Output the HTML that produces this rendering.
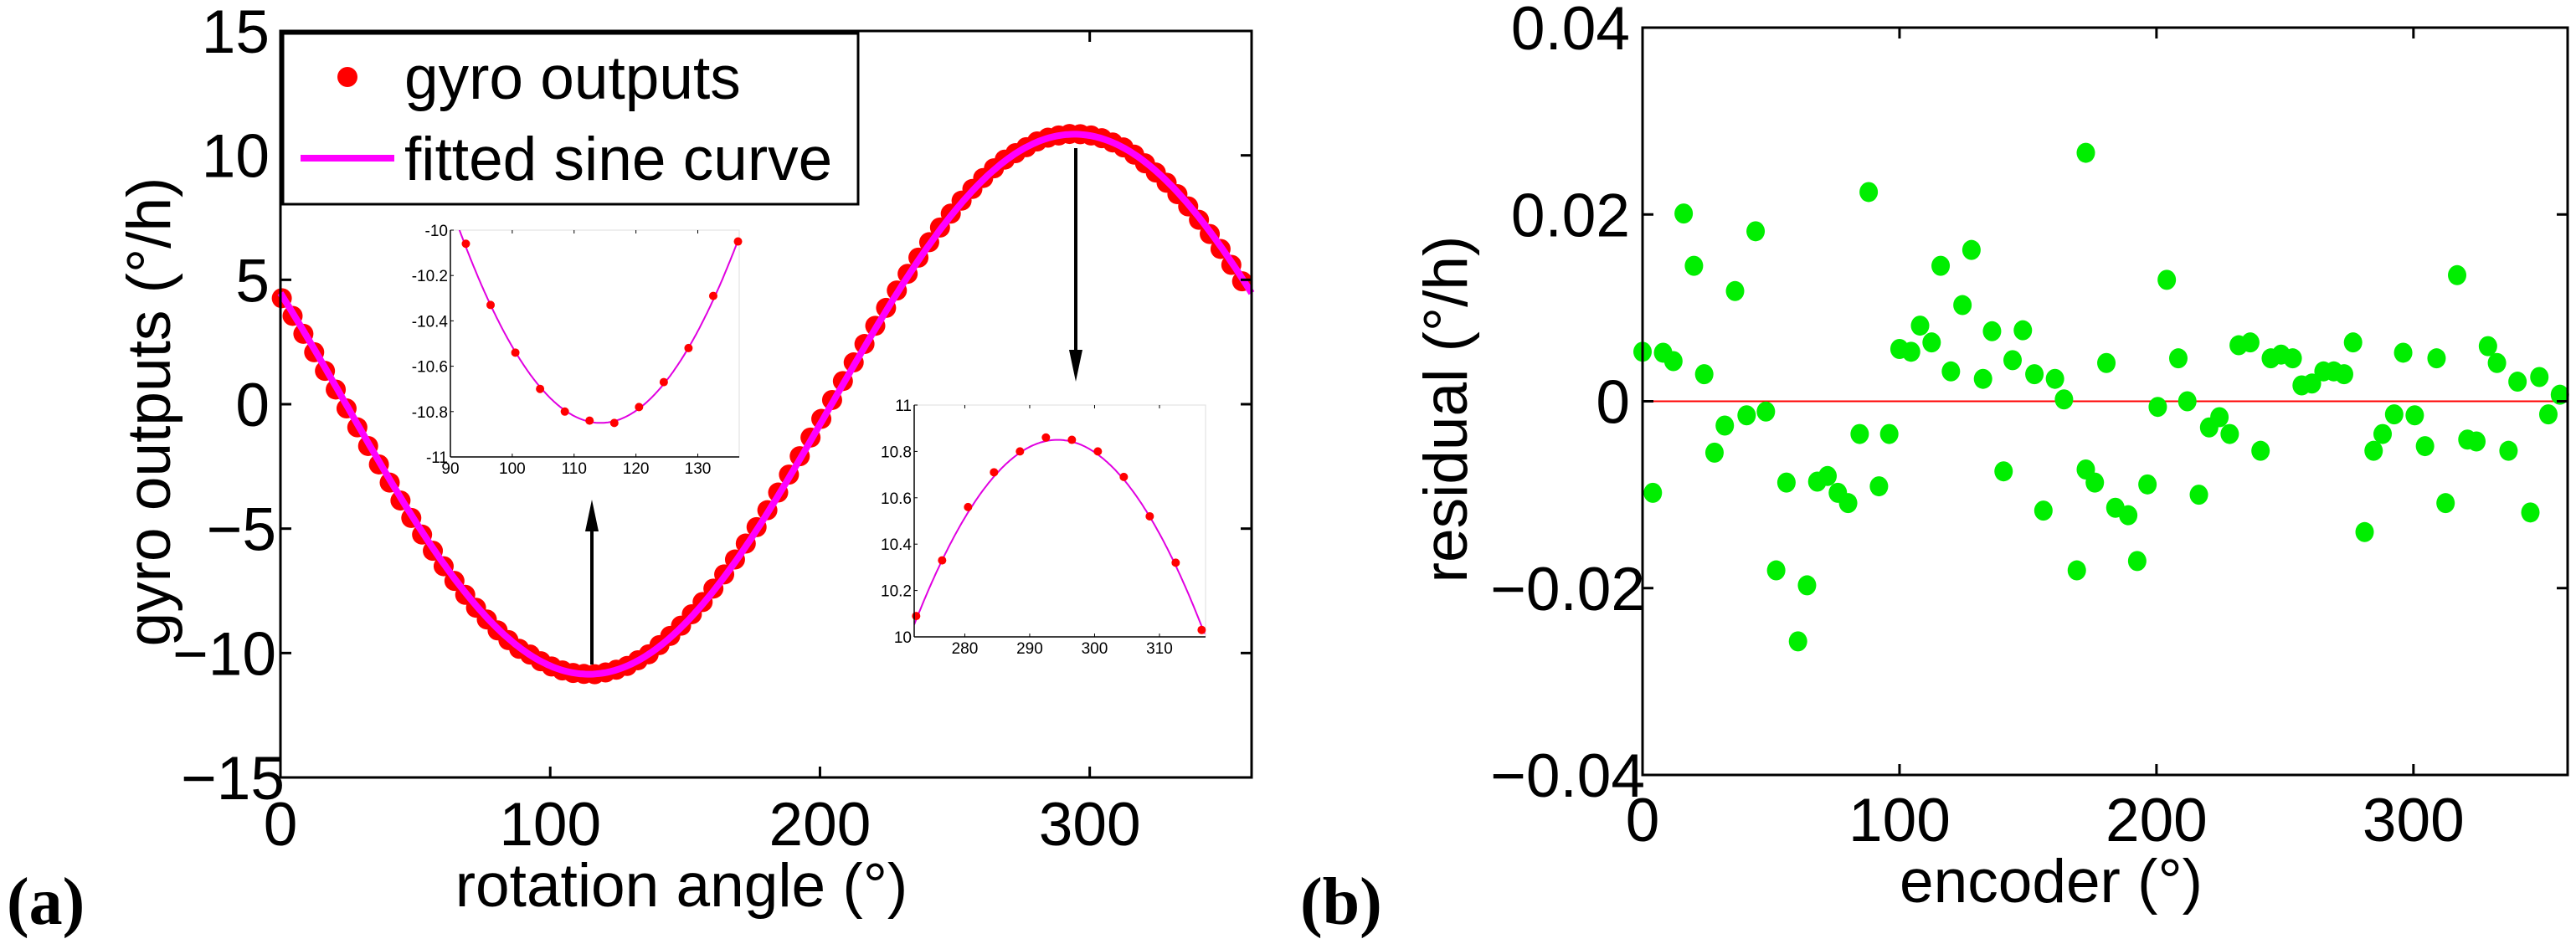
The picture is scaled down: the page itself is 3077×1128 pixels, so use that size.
<!DOCTYPE html>
<html><head><meta charset="utf-8"><style>
html,body{margin:0;padding:0;background:#fff}
svg{display:block}
text{font-family:"Liberation Sans",Arial,sans-serif}
</style></head><body>
<svg id="fig" width="3077" height="1128" viewBox="0 0 3077 1128" xmlns="http://www.w3.org/2000/svg">
<g id="gA"></g>
<g id="gB"></g>
<text x="8" y="1104" font-size="80" font-weight="bold" style="font-family:'Liberation Serif',serif">(a)</text>
<text x="1553" y="1104" font-size="80" font-weight="bold" style="font-family:'Liberation Serif',serif">(b)</text>
</svg>
<script>
// ---- Panel A data ----
const gyroAngles = [0.5,4.5,8.5,12.5,16.5,20.5,24.5,28.5,32.5,36.5,40.5,44.5,48.5,52.5,56.5,60.5,64.5,68.5,72.5,76.5,80.5,84.5,88.5,92.5,96.5,100.5,104.5,108.5,112.5,116.5,120.5,124.5,128.5,132.5,136.5,140.5,144.5,148.5,152.5,156.5,160.5,164.5,168.5,172.5,176.5,180.5,184.5,188.5,192.5,196.5,200.5,204.5,208.5,212.5,216.5,220.5,224.5,228.5,232.5,236.5,240.5,244.5,248.5,252.5,256.5,260.5,264.5,268.5,272.5,276.5,280.5,284.5,288.5,292.5,296.5,300.5,304.5,308.5,312.5,316.5,320.5,324.5,328.5,332.5,336.5,340.5,344.5,348.5,352.5,356.5];
const gyroValues = [4.26,3.55,2.83,2.09,1.34,0.59,-0.17,-0.93,-1.68,-2.42,-3.15,-3.87,-4.57,-5.24,-5.89,-6.51,-7.10,-7.66,-8.18,-8.65,-9.09,-9.48,-9.83,-10.06,-10.33,-10.54,-10.70,-10.80,-10.84,-10.85,-10.78,-10.67,-10.52,-10.29,-10.05,-9.68,-9.31,-8.90,-8.44,-7.95,-7.41,-6.84,-6.24,-5.60,-4.94,-4.26,-3.55,-2.83,-2.09,-1.34,-0.59,0.17,0.93,1.68,2.42,3.15,3.87,4.57,5.24,5.89,6.51,7.10,7.66,8.18,8.65,9.09,9.48,9.83,10.09,10.33,10.56,10.71,10.80,10.86,10.85,10.80,10.69,10.52,10.32,10.03,9.68,9.31,8.90,8.44,7.95,7.41,6.84,6.24,5.60,4.94];
const fitParams = [10.85, 294.3, 0]; // amplitude, peak angle, offset
const xTicksA = [0,100,200,300];
const yTicksA = [-15,-10,-5,0,5,10,15];
const inset1XTicks = [90,100,110,120,130];
const inset1YTicks = [-11,-10.8,-10.6,-10.4,-10.2,-10];
const inset1YLabels = ["-11","-10.8","-10.6","-10.4","-10.2","-10"];
const inset2XTicks = [280,290,300,310];
const inset2YTicks = [10,10.2,10.4,10.6,10.8,11];
const inset2YLabels = ["10","10.2","10.4","10.6","10.8","11"];
// ---- Panel B data ----
const encAngles = [0,4,8,12,16,20,24,28,32,36,40.5,44,48,52,56,60.5,64,68,72,76,80,84.5,88,92,96,100,104.5,108,112.5,116,120,124.5,128,132.5,136,140.5,144,148,152.5,156,160.5,164,169,172.5,172.5,176,180.5,184,189,192.5,196.5,200.5,204,208.5,212,216.5,220.5,224.5,228.5,232,236.5,240.5,244.5,248.5,253,256.5,260.5,265,269,273,276.5,281,284.5,288,292.5,296,300.5,304.5,309,312.5,317,321,324.5,329,332.5,337,340.5,345.5,349,352.5,357];
const residuals = [0.0053,-0.0098,0.0052,0.0043,0.0201,0.0145,0.0029,-0.0055,-0.0026,0.0118,-0.0015,0.0182,-0.0011,-0.0181,-0.0087,-0.0257,-0.0197,-0.0086,-0.008,-0.0098,-0.0109,-0.0035,0.0224,-0.0091,-0.0035,0.0056,0.0053,0.0081,0.0063,0.0145,0.0032,0.0103,0.0162,0.0024,0.0075,-0.0075,0.0044,0.0076,0.0029,-0.0117,0.0024,0.0002,-0.0181,0.0266,-0.0073,-0.0087,0.0041,-0.0114,-0.0122,-0.0171,-0.0089,-0.0006,0.013,0.0046,0,-0.01,-0.0028,-0.0017,-0.0035,0.006,0.0063,-0.0053,0.0046,0.005,0.0046,0.0017,0.0019,0.0032,0.0032,0.0029,0.0063,-0.014,-0.0053,-0.0035,-0.0014,0.0052,-0.0015,-0.0048,0.0046,-0.0109,0.0135,-0.0041,-0.0043,0.0059,0.0041,-0.0053,0.0021,-0.0119,0.0026,-0.0014,0.0007];
const xTicksB = [0,100,200,300];
const yTicksB = [-0.04,-0.02,0,0.02,0.04];
const yLabelsB = ["\u22120.04","\u22120.02","0","0.02","0.04"];

const NS="http://www.w3.org/2000/svg";
function mk(parent,tag,attrs,txt){const e=document.createElementNS(NS,tag);for(const k in attrs)e.setAttribute(k,attrs[k]);if(txt!==undefined)e.textContent=txt;parent.appendChild(e);return e;}
function fitY(t){return fitParams[2]+fitParams[0]*Math.cos((t-fitParams[1])*Math.PI/180);}

// ---------- Panel A ----------
const gA=document.getElementById('gA');
const A={l:335,r:1495,t:37,b:929,x0:0,x1:360,y0:-15,y1:15};
const ax=v=>A.l+(v-A.x0)/(A.x1-A.x0)*(A.r-A.l);
const ay=v=>A.b-(v-A.y0)/(A.y1-A.y0)*(A.b-A.t);
// dots
gyroAngles.forEach((t,i)=>{
  const c=mk(gA,'circle',{cx:ax(t),cy:ay(gyroValues[i]),r:12,fill:'#ff0000'});
  
  
});
// fitted line
let d='';for(let t=0;t<=360;t+=1){d+=(t?'L':'M')+ax(t).toFixed(1)+','+ay(fitY(t)).toFixed(1);}
const fl=mk(gA,'path',{d:d,fill:'none',stroke:'#ff00ff','stroke-width':8});


// axes box
const boxA=mk(gA,'rect',{x:A.l,y:A.t,width:A.r-A.l,height:A.b-A.t,fill:'none',stroke:'#000','stroke-width':3});


xTicksA.forEach(v=>{
  mk(gA,'line',{x1:ax(v),x2:ax(v),y1:A.b,y2:A.b-13,stroke:'#000','stroke-width':3});
  mk(gA,'line',{x1:ax(v),x2:ax(v),y1:A.t,y2:A.t+13,stroke:'#000','stroke-width':3});
  const t=mk(gA,'text',{x:ax(v),y:1010,'font-size':73,'text-anchor':'middle'},String(v));
  
  
});
yTicksA.forEach(v=>{
  mk(gA,'line',{x1:A.l,x2:A.l+13,y1:ay(v),y2:ay(v),stroke:'#000','stroke-width':3});
  mk(gA,'line',{x1:A.r,x2:A.r-13,y1:ay(v),y2:ay(v),stroke:'#000','stroke-width':3});
  const t=mk(gA,'text',{x:v<0?(v===-15?340:330):322,y:ay(v)+26,'font-size':73,'text-anchor':'end'},v<0?'\u2212'+Math.abs(v):String(v));
  
  
});
const xtA=mk(gA,'text',{x:814,y:1083,'font-size':73,'text-anchor':'middle'},'rotation angle (°)');


const ytA=mk(gA,'text',{x:0,y:0,'font-size':73,'text-anchor':'middle',transform:'translate(203,492) rotate(-90)'},'gyro outputs (°/h)');


// legend
const lg=mk(gA,'g',{});


mk(lg,'rect',{x:338,y:40,width:687,height:204,fill:'#fff',stroke:'#000','stroke-width':3});
const le1=mk(lg,'g',{});


mk(le1,'circle',{cx:415,cy:92,r:12,fill:'#ff0000'});
mk(le1,'text',{x:483,y:118,'font-size':73},'gyro outputs');
const le2=mk(lg,'g',{});


mk(le2,'line',{x1:359,x2:471,y1:189,y2:189,stroke:'#ff00ff','stroke-width':8});
mk(le2,'text',{x:483,y:215,'font-size':73},'fitted sine curve');
// arrows
function arrow(x,y1,y2,name){
  const g=mk(gA,'g',{});
  
  
  const dir=y2<y1?1:-1;
  mk(g,'line',{x1:x,x2:x,y1:y1,y2:y2+dir*30,stroke:'#000','stroke-width':4});
  mk(g,'polygon',{points:`${x},${y2} ${x-8},${y2+dir*38} ${x+8},${y2+dir*38}`,fill:'#000'});
}
arrow(707,794,597,'arrow-to-minimum');
arrow(1285,177,456,'arrow-to-maximum');
// insets
function inset(box,xr,yr,xt,yt,ylab,name){
  const g=mk(gA,'g',{});
  
  
  const ix=v=>box.l+(v-xr[0])/(xr[1]-xr[0])*(box.r-box.l);
  const iy=v=>box.b-(v-yr[0])/(yr[1]-yr[0])*(box.b-box.t);
  mk(g,'rect',{x:box.l,y:box.t,width:box.r-box.l,height:box.b-box.t,fill:'#fff',stroke:'#ddd','stroke-width':1});
  const cid='clip'+name;
  const cp=mk(g,'clipPath',{id:cid});mk(cp,'rect',{x:box.l,y:box.t,width:box.r-box.l,height:box.b-box.t});
  let p='';for(let t=xr[0];t<=xr[1]+0.01;t+=0.25){p+=(p?'L':'M')+ix(t).toFixed(1)+','+iy(fitY(t)).toFixed(1);}
  const il=mk(g,'path',{d:p,fill:'none',stroke:'#e000e0','stroke-width':2,'clip-path':`url(#${cid})`});
  
  
  gyroAngles.forEach((t,i)=>{
    if(t<xr[0]||t>xr[1])return;
    const c=mk(g,'circle',{cx:ix(t),cy:iy(gyroValues[i]),r:5,fill:'#ff0000'});
    
    
  });
  mk(g,'line',{x1:box.l,x2:box.l,y1:box.t,y2:box.b,stroke:'#000','stroke-width':1.5});
  mk(g,'line',{x1:box.l,x2:box.r,y1:box.b,y2:box.b,stroke:'#000','stroke-width':1.5});
  xt.forEach(v=>{
    mk(g,'line',{x1:ix(v),x2:ix(v),y1:box.b,y2:box.b-4,stroke:'#000','stroke-width':1});
    mk(g,'line',{x1:ix(v),x2:ix(v),y1:box.t,y2:box.t+4,stroke:'#000','stroke-width':1});
    mk(g,'text',{x:ix(v),y:box.b+20,'font-size':19,'text-anchor':'middle'},String(v));
  });
  yt.forEach((v,i)=>{
    mk(g,'line',{x1:box.l,x2:box.l+4,y1:iy(v),y2:iy(v),stroke:'#000','stroke-width':1});
    mk(g,'text',{x:box.l-3,y:iy(v)+7,'font-size':19,'text-anchor':'end'},ylab[i]);
  });
}
inset({l:538,r:883,t:275,b:546},[90,136.7],[-11,-10],inset1XTicks,inset1YTicks,inset1YLabels,'inset-minimum');
inset({l:1092,r:1440,t:484,b:761},[272.2,317.1],[10,11],inset2XTicks,inset2YTicks,inset2YLabels,'inset-maximum');

// ---------- Panel B ----------
const gB=document.getElementById('gB');
const B={l:1962,r:3067,t:33,b:926,x0:0,x1:360,y0:-0.04,y1:0.04};
const bx=v=>B.l+(v-B.x0)/(B.x1-B.x0)*(B.r-B.l);
const by=v=>B.b-(v-B.y0)/(B.y1-B.y0)*(B.b-B.t);
const zl=mk(gB,'line',{x1:B.l,x2:B.r,y1:by(0),y2:by(0),stroke:'#ff0000','stroke-width':2});


encAngles.forEach((t,i)=>{
  const c=mk(gB,'ellipse',{cx:bx(t),cy:by(residuals[i]),rx:11,ry:12,fill:'#00ee00'});
  
  
});
const boxB=mk(gB,'rect',{x:B.l,y:B.t,width:B.r-B.l,height:B.b-B.t,fill:'none',stroke:'#000','stroke-width':3});


xTicksB.forEach(v=>{
  mk(gB,'line',{x1:bx(v),x2:bx(v),y1:B.b,y2:B.b-13,stroke:'#000','stroke-width':3});
  mk(gB,'line',{x1:bx(v),x2:bx(v),y1:B.t,y2:B.t+13,stroke:'#000','stroke-width':3});
  const t=mk(gB,'text',{x:bx(v),y:1005,'font-size':73,'text-anchor':'middle'},String(v));
  
  
});
yTicksB.forEach((v,i)=>{
  mk(gB,'line',{x1:B.l,x2:B.l+13,y1:by(v),y2:by(v),stroke:'#000','stroke-width':3});
  mk(gB,'line',{x1:B.r,x2:B.r-13,y1:by(v),y2:by(v),stroke:'#000','stroke-width':3});
  const t=mk(gB,'text',{x:v<0?1965:1947,y:by(v)+26,'font-size':73,'text-anchor':'end'},yLabelsB[i]);
  
  
});
const xtB=mk(gB,'text',{x:2450,y:1078,'font-size':73,'text-anchor':'middle'},'encoder (°)');


const ytB=mk(gB,'text',{x:0,y:0,'font-size':73,'text-anchor':'middle',transform:'translate(1752,489) rotate(-90)'},'residual (°/h)');


</script>
</body></html>
